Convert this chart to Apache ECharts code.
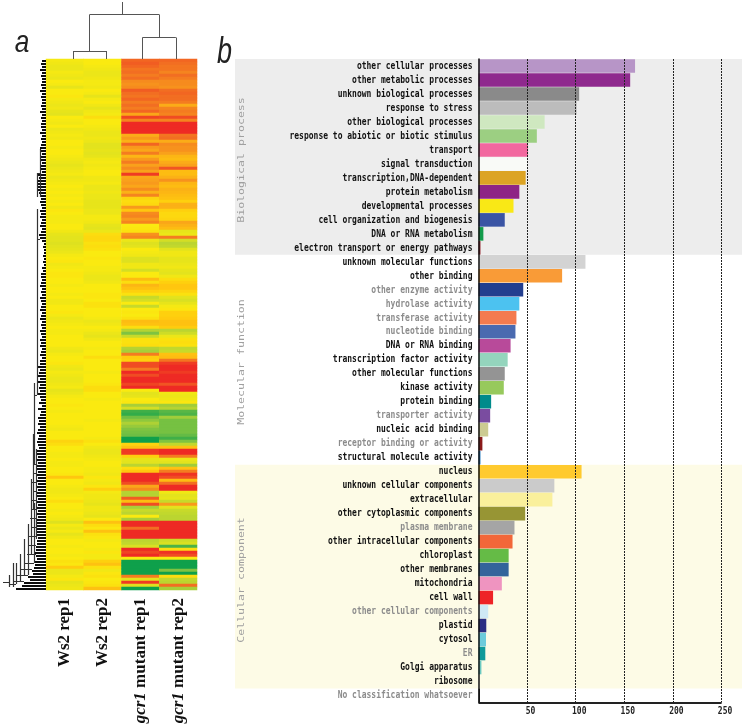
<!DOCTYPE html>
<html>
<head>
<meta charset="utf-8">
<title>Ws2 vs gcr1</title>
<script src="https://cdn.jsdelivr.net/npm/echarts@6/dist/echarts.min.js"></script>
<style>
  html, body { margin: 0; padding: 0; background: #fff; }
  #chart { width: 744px; height: 728px; }
</style>
</head>
<body>
<div id="chart"></div>
<script>
// panel b
const termNames = [
  'other cellular processes','other metabolic processes','unknown biological processes','response to stress',
  'other biological processes','response to abiotic or biotic stimulus','transport','signal transduction',
  'transcription,DNA-dependent','protein metabolism','developmental processes','cell organization and biogenesis',
  'DNA or RNA metabolism','electron transport or energy pathways',
  'unknown molecular functions','other binding','other enzyme activity','hydrolase activity','transferase activity',
  'nucleotide binding','DNA or RNA binding','transcription factor activity','other molecular functions','kinase activity',
  'protein binding','transporter activity','nucleic acid binding','receptor binding or activity','structural molecule activity',
  'nucleus','unknown cellular components','extracellular','other cytoplasmic components','plasma membrane',
  'other intracellular components','chloroplast','other membranes','mitochondria','cell wall','other cellular components',
  'plastid','cytosol','ER','Golgi apparatus','ribosome','No classification whatsoever'
];
const termCounts = [
  161,156,103.5,101,68,60,51,50,48.5,42,36,27,5,2,
  110,86,46,42,39,38,33,30,27,26,13,12,10,4,2,
  106,78,76,48,37,35,31,31,24,15,10,8,7.7,7,3,0.5,
  1.5
];
const termColors = [
  '#b795c7','#8f2a8e','#8a8a8a','#bcbcbc','#cfe8c0','#9ccf82','#f2689f','#f9faf7','#dca425','#8e2585','#f9e816','#3a54a4','#129b4b','#8e1c26',
  '#d3d3d3','#f99b37','#233e8f','#4cc2f0','#f47b4f','#4a6ab0','#b84a9a','#94d5bd','#949494','#97c95c','#008b8b','#7a4ca0','#cccb92','#8a1a1a','#1b75bb',
  '#ffca2e','#cbcbcb','#faf09c','#979534','#a5a5a5','#f26739','#65bb46','#33649b','#ef94c0','#ee2326','#cfe8f5','#2b2e83','#6dcbdb','#0f9a9a','#6cc9c1','#eeeeee',
  '#222222'
];
const dimTerms = ['other enzyme activity','hydrolase activity','transferase activity','nucleotide binding','transporter activity',
  'receptor binding or activity','plasma membrane','other cellular components','ER','No classification whatsoever'];
const sectionBands = [[0,14,'#ededed'],[29,45,'#fdfbe6']];
const countTicks = [50,100,150,200,250];

// panel a
const columnLabels = ['Ws2 rep1','Ws2 rep2','{i|gcr1} mutant rep1','{i|gcr1} mutant rep2'];
const ws2Rep1 = [
  -0.1,-0.2,-0.3,-0.3,-0.1,-0.2,-0.3,0,-0.1,-0.4,0,0,0.1,-0.1,-0.2,-0.3,-0.2,-0.4,-0.5,0,-0.1,-0.2,0,-0.3,-0.2,-0.1,-0.2,0,0,-0.1,0,0,-0.1,-0.2,-0.3,-0.4,-0.3,-0.2,-0.1,-0.3,-0.2,-0.1,0,-0.1,
  0,-0.1,0,-0.1,0,-0.2,0.1,0,-0.1,-0.1,-0.1,0,0,-0.2,-0.4,-0.5,-0.5,-0.6,-0.5,-0.4,-0.3,-0.1,0,0.1,-0.2,-0.1,0,0.1,0.1,0,0,-0.1,0,0,-0.1,0,-0.2,-0.2,0,0,0.1,-0.1,-0.3,-0.2,-0.1,
  0,-0.1,-0.1,0,0,0,0,-0.2,-0.3,-0.1,0,0,0.1,-0.2,-0.3,-0.1,-0.2,-0.3,-0.3,-0.2,-0.1,-0.4,-0.3,-0.1,0,0,0.1,0,-0.1,0,0,0,0,-0.1,-0.2,0,0,0,0.5,0.3,0,0,-0.1,-0.1,0,
  -0.1,-0.1,0,0,0.1,0.8,0,0,-0.1,-0.2,-0.2,-0.1,0,0.3,0,0,-0.1,0,-0.1,-0.2,-0.6,-0.1,-0.3,-0.1,-0.4,-0.2,0,0,-0.1,0,0,-0.1,0,0.2,0.1,0.7,-0.3,-0.3,-0.1,0.1,-0.4,-0.3,-0.2
];
const ws2Rep2 = [
  0,0,-0.1,-0.2,-0.3,-0.3,-0.2,-0.1,-0.1,-0.2,0,-0.1,-0.4,-0.1,0,-0.2,-0.4,-0.2,-0.1,0.3,0,0,-0.1,-0.2,-0.3,-0.3,-0.2,-0.3,-0.5,-0.5,-0.4,-0.5,-0.4,-0.2,-0.1,-0.2,-0.1,0,0,-0.2,-0.2,-0.1,-0.3,-0.3,
  -0.2,-0.3,-0.3,-0.4,-0.4,-0.4,-0.3,-0.3,-0.1,-0.1,-0.2,-0.4,-0.5,-0.3,0.3,0.4,0.4,0.2,0.3,0.2,0,0,0.1,0,0,-0.1,-0.1,-0.2,-0.3,-0.3,-0.2,0,0,0,0.1,0.1,0,0.2,0.2,0,0,0,-0.1,-0.3,-0.2,
  0,-0.1,-0.3,-0.4,-0.2,0,0,-0.1,0,0,0.3,0,0,0,0,-0.1,0,0,0,0.1,0.3,0.3,0,0,-0.1,0,0,0,0,0,0,-0.1,0,0,0,0,0,-0.1,0.2,0,-0.2,-0.3,-0.3,-0.2,-0.1,
  0,0,-0.1,-0.1,-0.2,0.1,-0.1,-0.2,0.1,0.6,-0.1,-0.2,-0.2,-0.3,-0.4,-0.2,-0.2,-0.3,-0.4,0,0.9,0.3,0.1,0.9,0.2,0.1,-0.1,0,0,-0.1,0.1,-0.1,-0.1,0.6,0.9,0.2,-0.2,0.1,0.2,0,0.1,0.2,0.9
];
const gcr1Rep1 = [
  2.3,2.4,2.3,2.1,2.2,2.0,2.2,1.8,1.7,1.8,2.4,2.2,2.1,2.3,2.0,2.2,2.0,2.3,1.4,2.7,1.9,3,3,3,3,1.3,1.6,1.2,2.3,1.6,1.4,2,1.1,1.6,2.0,1.5,1.8,1.5,2.8,1.4,1.5,1.6,1.4,1.8,
  1.2,1.9,0.5,0.3,0.4,1.6,0.8,1.8,1.9,1.6,1.9,0,0.1,0.2,1.7,1.9,-0.3,-0.6,-0.5,0,-0.1,-0.2,-0.6,-0.6,-0.2,-0.2,-0.8,0,0,1.0,0.3,1.1,0.9,0.6,0.2,-1,-0.8,0,-1,0,0.1,0,0.2,1.0,0.9,
  0.3,-1.3,-2.0,-1.0,0.2,0.2,0.3,-1.3,-1.5,2.0,0.7,0.6,2.6,2.6,2.0,3,2.6,3,3,2.7,3,0,-0.5,-0.4,0,0.1,-1.5,-0.8,-2.6,-2.7,-2.2,-1.8,-1.4,-1.7,-2.0,-2.1,-2.2,-3,-3,0.5,0.9,2.8,2.8,0.6,-0.4,
  -0.5,-1.2,0.3,0.8,3,3,3,2.6,1.4,1.8,-1.3,-1.3,2.4,1.0,2.6,-1.5,-1.0,-1.2,0,-1.5,3,3,2.2,3,3,3,-1.2,-1.1,-0.7,3,2.7,3,0,-3,-3,-3,-3,-3,2.0,-0.5,2.8,-0.6,-3
];
const gcr1Rep2 = [
  2.3,2.2,2.1,2.1,1.9,2.2,2.0,1.8,1.8,1.7,2.2,2.3,2.2,2.2,2.0,1.3,1.9,2,1.9,2.6,1.9,3,3,3,3,2.1,2.2,1.3,1.8,1.7,1.7,1.5,1.1,1.0,1.3,1.5,2.5,1.0,1.0,1.2,1.7,1.1,1.0,1.2,
  1.1,1.0,0.9,0.6,1.2,1.2,0.6,0.4,0.4,0.5,1.4,1.2,1.0,-0.4,-0.3,2.0,-0.8,-1.2,-1.1,-0.5,-0.2,-0.2,-0.4,-0.4,-0.3,-0.2,-0.4,-0.5,-0.2,0.3,0.6,0.8,0.8,0.5,0.2,-0.5,-0.7,-0.4,-0.1,0.1,0.6,0.6,0.7,0.9,0.9,
  0.7,-1.2,-0.9,-0.3,0.2,0.3,0.2,-1.1,-1.0,0.9,1.0,2.1,2.8,3,3,2.8,3,3,3,2.5,3,3,-0.2,-0.3,-0.2,0.1,-1.6,-1.3,-2.4,-2.5,-1.6,-2.1,-2.1,-2.1,-2.1,-2.1,-2.3,-2.6,-2.0,-1.1,0.9,3,3,2.0,-0.3,
  -0.5,-1.6,0.9,2.0,2.9,2.6,1.0,2.2,3,3,-0.2,-0.5,-0.4,-1.0,1.6,-0.5,-1.0,-1.1,-1.2,-1.2,3,3,3,3,3,3,-0.9,-0.7,-2.5,0.3,2.9,2.6,0,-3,-3,-3,-2,-3,0.3,-1.1,-1.2,2.2,-1.5
];
const heatColors = ['#0fa04b','#6abd45','#a8cf38','#d7df23','#faea10','#ffc90e','#f9a11b','#f26a22','#ee2a24'];

// gene tree: one height per row, then trunks [height, fromRow, toRow] and links [row, fromHeight, toHeight]
const leafHeights = [
  4,5,4,6,4,5,4,4,5,4,6,4,5,4,4,5,4,6,4,5,4,5,5,4,6,4,5,4,5,6,5,4,6,5,4,5,6,4,
  8,7,9,8,8,9,7,
  6,5,6,5,4,6,5,6,4,5,6,4,5,7,6,4,
  2,3,2,2,3,2,3,2,4,3,
  5,5,4,5,6,4,5,4,6,5,4,5,6,4,5,6,4,5,4,6,5,4,6,5,6,4,5,6,4,6,
  6,8,6,7,9,6,8,6,7,6,8,6,5,7,4,8,5,6,8,7,
  8,6,8,9,7,8,9,8,7,9,9,8,9,8,9,9,8,9,8,9,
  8,9,8,9,9,8,9,8,9,8,9,8,9,10,9,9,10,9,8,9,
  9,10,10,11,10,9,12,11,12,14,13,18,16,22,24,30
];
const treeTrunks = [
  [6,30,46],[9,38,46],[9,50,112],[12,108,135],[13,125,150],[15,140,165],[18,155,172],[22,160,172],
  [26,165,174],[30,168,175],[33,168,176],[37,172,176],[10,130,160],[12,148,168]
];
const treeLinks = [
  [38,6,9],[60,6,9],[112,9,12],[135,9,13],[138,9,12],[141,9,14],[144,9,13],[147,9,15],[150,9,14],
  [153,10,16],[156,9,15],[159,9,17],[162,10,18],[165,10,19],[168,12,22],[170,14,26],[172,18,30],
  [174,22,33],[175,30,37],[174.5,37,43]
];
// sample tree: [height, fromColumn, toColumn] bars and [column, fromHeight, toHeight] drops
const sampleBars = [[8,0.715,1.59],[21.5,2.556,3.44],[44.5,1.157,2.997]];
const sampleDrops = [[0.715,0,8],[1.59,0,8],[2.556,0,21.5],[3.44,0,21.5],[1.157,8,44.5],[2.997,21.5,44.5],[2.03,44.5,57]];

const rowNames = ws2Rep1.map((v, i) => String(i));
const heatData = [];
[ws2Rep1, ws2Rep2, gcr1Rep1, gcr1Rep2].forEach((col, c) => {
  col.forEach((v, r) => heatData.push([c, r, v]));
});

const barData = termCounts.map((v, i) => ({ value: v, itemStyle: { color: termColors[i] } }));

const leafLines = leafHeights.map((h, r) => ({ coords: [[0, r + 0.5], [h, r + 0.5]] }));
const trunkLines = treeTrunks.map(t => ({ coords: [[t[0], t[1]], [t[0], t[2]]] }))
  .concat(treeLinks.map(l => ({ coords: [[l[1], l[0]], [l[2], l[0]]] })));
const sampleLines = sampleBars.map(b => ({ coords: [[b[1], b[0]], [b[2], b[0]]] }))
  .concat(sampleDrops.map(d => ({ coords: [[d[0], d[1]], [d[0], d[2]]] })));

const monoFont = '"DejaVu Sans Mono", monospace';

function sectionTitle(text, y) {
  return {
    type: 'text', x: 241.5, y: y, rotation: Math.PI / 2, scaleY: 0.78, z: 10,
    style: { text: text, font: '11.6px ' + monoFont, fill: '#a0a0a0', align: 'center', verticalAlign: 'middle' }
  };
}
function panelLetter(text, x, y, size, scaleX) {
  return {
    type: 'text', x: x, y: y, scaleX: scaleX, z: 10,
    style: { text: text, font: 'italic ' + size + 'px "Liberation Sans", sans-serif', fill: '#222', align: 'center', verticalAlign: 'bottom' }
  };
}
// the reference labels are tall and narrow, so the font is stretched upward
function stretchedText(x, y, text, color, align) {
  return {
    type: 'text', x: x, y: y, scaleY: 1.3,
    style: { text: text, font: 'bold 8px ' + monoFont, fill: color, align: align, verticalAlign: 'middle' }
  };
}

const chart = echarts.init(document.getElementById('chart'));
chart.setOption({
  animation: false,
  backgroundColor: '#fff',
  grid: [
    { left: 478.5, top: 59, width: 263.5, height: 643.5 },
    { left: 46, top: 59, width: 151, height: 531 },
    { left: 3, top: 59, width: 43, height: 531 },
    { left: 46, top: 1, width: 151, height: 58 },
    { left: 235, top: 59, width: 507, height: 643.5 }
  ],
  xAxis: [
    {
      gridIndex: 0, type: 'value', min: 0, max: 271, interval: 50, z: 5,
      axisLine: { show: false }, axisTick: { show: false }, axisLabel: { show: false },
      splitLine: { show: true, showMinLine: false, showMaxLine: false, lineStyle: { color: '#222', type: [2, 1], width: 1 } }
    },
    {
      gridIndex: 1, type: 'category', data: columnLabels, position: 'bottom',
      axisLine: { show: false }, axisTick: { show: false },
      axisLabel: { interval: 0, rotate: 90, margin: 8, fontFamily: '"Liberation Serif", serif', fontSize: 17, fontWeight: 'bold', color: '#111',
        rich: { i: { fontFamily: '"Liberation Serif", serif', fontSize: 17, fontWeight: 'bold', fontStyle: 'italic', color: '#111' } } }
    },
    { gridIndex: 2, type: 'value', min: 0, max: 43, inverse: true, show: false },
    { gridIndex: 3, type: 'value', min: 0, max: 4, show: false },
    { gridIndex: 4, type: 'value', min: 0, max: 1, show: false }
  ],
  yAxis: [
    {
      gridIndex: 0, type: 'category', data: termNames, inverse: true, z: 5,
      axisLine: { show: true, onZero: false, lineStyle: { color: '#111', width: 1.5 } },
      axisTick: { show: false }, axisLabel: { show: false }
    },
    { gridIndex: 0, type: 'value', min: 0, max: 46, inverse: true, show: false },
    { gridIndex: 1, type: 'category', data: rowNames, inverse: true, show: false },
    { gridIndex: 2, type: 'value', min: 0, max: 177, inverse: true, show: false },
    { gridIndex: 3, type: 'value', min: 0, max: 58, show: false },
    { gridIndex: 4, type: 'value', min: 0, max: 46, inverse: true, show: false }
  ],
  visualMap: { show: false, seriesIndex: 2, min: -3, max: 3, inRange: { color: heatColors } },
  series: [
    {
      // section bands run under the term labels too, so they sit on their own wider grid
      type: 'line', xAxisIndex: 4, yAxisIndex: 5, data: [], z: 1, silent: true, symbol: 'none',
      markArea: { silent: true, data: sectionBands.map(b => [
        { yAxis: b[0], xAxis: 0, itemStyle: { color: b[2], opacity: 1 } }, { yAxis: b[1], xAxis: 1 }
      ]) }
    },
    {
      type: 'bar', xAxisIndex: 0, yAxisIndex: 0, data: barData, barCategoryGap: '3%', z: 2
    },
    {
      type: 'heatmap', xAxisIndex: 1, yAxisIndex: 2, data: heatData, progressive: 0
    },
    {
      type: 'lines', coordinateSystem: 'cartesian2d', xAxisIndex: 2, yAxisIndex: 3, data: leafLines,
      lineStyle: { color: '#000', width: 1.9, opacity: 1 }, silent: true, z: 3
    },
    {
      type: 'lines', coordinateSystem: 'cartesian2d', xAxisIndex: 2, yAxisIndex: 3, data: trunkLines,
      lineStyle: { color: '#333', width: 1.2, opacity: 1 }, silent: true, z: 3
    },
    {
      type: 'lines', coordinateSystem: 'cartesian2d', xAxisIndex: 3, yAxisIndex: 4, data: sampleLines,
      lineStyle: { color: '#555', width: 1, opacity: 1 }, silent: true, z: 3
    },
    {
      // bottom axis stops at the last tick
      type: 'line', xAxisIndex: 0, yAxisIndex: 1, data: [], z: 4, silent: true, symbol: 'none',
      markLine: { silent: true, symbol: 'none', label: { show: false },
        lineStyle: { color: '#222', width: 2, type: 'solid' },
        data: [[{ coord: [0, 46] }, { coord: [250, 46] }]] }
    },
    {
      type: 'custom', xAxisIndex: 0, yAxisIndex: 0, silent: true, z: 6,
      data: termNames.map((n, i) => [0, i]),
      encode: { x: 0, y: 1 },
      renderItem: (params, api) => {
        const p = api.coord([0, api.value(1)]);
        const name = termNames[params.dataIndex];
        return stretchedText(p[0] - 6, p[1], name, dimTerms.indexOf(name) >= 0 ? '#8c8c8c' : '#111', 'right');
      }
    },
    {
      type: 'custom', xAxisIndex: 0, yAxisIndex: 1, silent: true, z: 6,
      data: countTicks.map(v => [v, 46]),
      encode: { x: 0, y: 1 },
      renderItem: (params, api) => {
        const p = api.coord([api.value(0), api.value(1)]);
        return stretchedText(p[0] + 3.5, p[1] + 9, String(api.value(0)), '#222', 'center');
      }
    }
  ],
  graphic: [
    sectionTitle('Biological process', 160),
    sectionTitle('Molecular function', 362),
    sectionTitle('Cellular component', 580),
    panelLetter('a', 22, 59, 32, 0.82),
    panelLetter('b', 224.5, 71, 36, 0.75)
  ]
});
</script>
</body>
</html>
